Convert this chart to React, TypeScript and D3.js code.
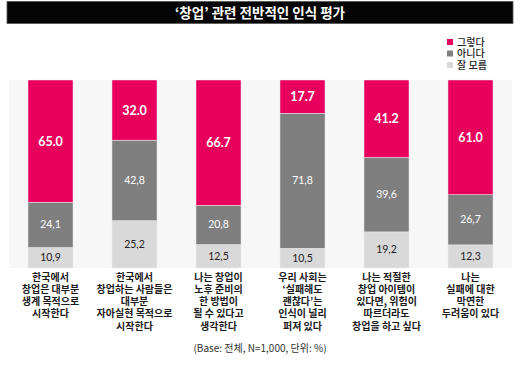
import { useEffect, useRef } from "react";
import * as d3 from "d3";

// 카테고리 (줄바꿈 단위로 나눔)
const categories: string[][] = [
  ["한국에서", "창업은 대부분", "생계 목적으로", "시작한다"],
  ["한국에서", "창업하는 사람들은", "대부분", "자아실현 목적으로", "시작한다"],
  ["나는 창업이", "노후 준비의", "한 방법이", "될 수 있다고", "생각한다"],
  ["우리 사회는", "‘실패해도", "괜찮다’는", "인식이 널리", "퍼져 있다"],
  ["나는 적절한", "창업 아이템이", "있다면, 위험이", "따르더라도", "창업을 하고 싶다"],
  ["나는", "실패에 대한", "막연한", "두려움이 있다"],
];

const seriesNames = ["그렇다", "아니다", "잘 모름"];
const yes = [65.0, 32.0, 66.7, 17.7, 41.2, 61.0];
const no = [24.1, 42.8, 20.8, 71.8, 39.6, 26.7];
const dontKnow = [10.9, 25.2, 12.5, 10.5, 19.2, 12.3];

const COLORS = ["#e8005c", "#7f7f7f", "#d9d9d9"];
const W = 520;
const H = 373;

export default function App() {
  const svgRef = useRef<SVGSVGElement>(null);

  useEffect(() => {
    if (!svgRef.current) return;
    const svg = d3.select(svgRef.current);
    svg.selectAll("*").remove();

    const top = 80;
    const bottom = 268;

    // 제목 바
    svg.append("rect")
      .attr("x", 7).attr("y", 1.5)
      .attr("width", 506).attr("height", 22)
      .attr("fill", "#050505")
      .attr("stroke", "#555").attr("stroke-width", 0.8);
    svg.append("text")
      .attr("x", 260).attr("y", 17.5)
      .attr("text-anchor", "middle")
      .attr("fill", "#fff")
      .style("font-family", "'Noto Sans CJK KR', sans-serif")
      .style("font-size", "13.5px")
      .style("font-weight", "700")
      .text("‘창업’ 관련 전반적인 인식 평가");

    // 범례
    const leg = svg.append("g").attr("transform", "translate(447,42)");
    seriesNames.forEach((name, i) => {
      leg.append("rect")
        .attr("x", 0).attr("y", i * 11.5 - 3)
        .attr("width", 6).attr("height", 6)
        .attr("fill", COLORS[i]);
      leg.append("text")
        .attr("x", 10).attr("y", i * 11.5 + 3.5)
        .style("font-family", "'Noto Sans CJK KR', sans-serif")
        .style("font-size", "10px")
        .style("font-weight", "500")
        .attr("fill", "#222")
        .text(name);
    });

    // 플롯 배경
    svg.append("rect")
      .attr("x", 9).attr("y", top)
      .attr("width", 503).attr("height", bottom - top)
      .attr("fill", "#f7f7f7");

    const x = d3.scaleBand<number>()
      .domain(d3.range(categories.length))
      .range([8.5, 512.5])
      .paddingInner(0.464)
      .paddingOuter(0.232);

    const y = d3.scaleLinear().domain([0, 100]).range([bottom, top]);

    const rows = categories.map((_, i) => ({
      i,
      yes: yes[i],
      no: no[i],
      dontKnow: dontKnow[i],
    }));
    const stack = d3.stack<any>().keys(["dontKnow", "no", "yes"]);
    const layers = stack(rows);
    const colorByKey: Record<string, string> = {
      yes: COLORS[0],
      no: COLORS[1],
      dontKnow: COLORS[2],
    };

    layers.forEach((layer) => {
      const key = layer.key;
      const g = svg.append("g");
      g.selectAll("rect")
        .data(layer)
        .enter()
        .append("rect")
        .attr("x", (d: any) => x(d.data.i)!)
        .attr("width", x.bandwidth())
        .attr("y", (d) => y(d[1]))
        .attr("height", (d) => y(d[0]) - y(d[1]))
        .attr("fill", colorByKey[key])
        .attr("stroke", "#ececec")
        .attr("stroke-width", 0.5);

      g.selectAll("text")
        .data(layer)
        .enter()
        .append("text")
        .attr("x", (d: any) => x(d.data.i)! + x.bandwidth() / 2)
        .attr("y", (d) => (y(d[0]) + y(d[1])) / 2 + (key === "yes" ? 4.5 : 3.5))
        .attr("text-anchor", "middle")
        .style("font-family", "Lato, 'Open Sans', sans-serif")
        .style("font-size", key === "yes" ? "12.5px" : "10.5px")
        .style("font-weight", key === "yes" ? "700" : "400")
        .attr("fill", key === "dontKnow" ? "#222" : "#fff")
        .text((d: any) => {
          const v = d.data[key] as number;
          return key === "yes" ? v.toFixed(1) : v.toFixed(1).replace(".", ",");
        });
    });

    // 카테고리 라벨 (줄마다 따로)
    categories.forEach((lines, i) => {
      lines.forEach((line, j) => {
        svg.append("text")
          .attr("x", x(i)! + x.bandwidth() / 2)
          .attr("y", 280.5 + j * 12.3)
          .attr("text-anchor", "middle")
          .style("font-family", "'Noto Sans CJK KR', sans-serif")
          .style("font-size", "10px")
          .style("font-weight", "700")
          .attr("fill", "#1a1a1a")
          .text(line);
      });
    });

    // 출처
    svg.append("text")
      .attr("x", 260).attr("y", 352)
      .attr("text-anchor", "middle")
      .style("font-family", "'Noto Sans CJK KR', sans-serif")
      .style("font-size", "10px")
      .attr("fill", "#333")
      .text("(Base: 전체, N=1,000, 단위: %)");
  }, []);

  return (
    <div style={{ position: "absolute", left: 0, top: 0, width: W, height: H, background: "#fff" }}>
      <svg ref={svgRef} width={W} height={H} style={{ display: "block" }} />
    </div>
  );
}
